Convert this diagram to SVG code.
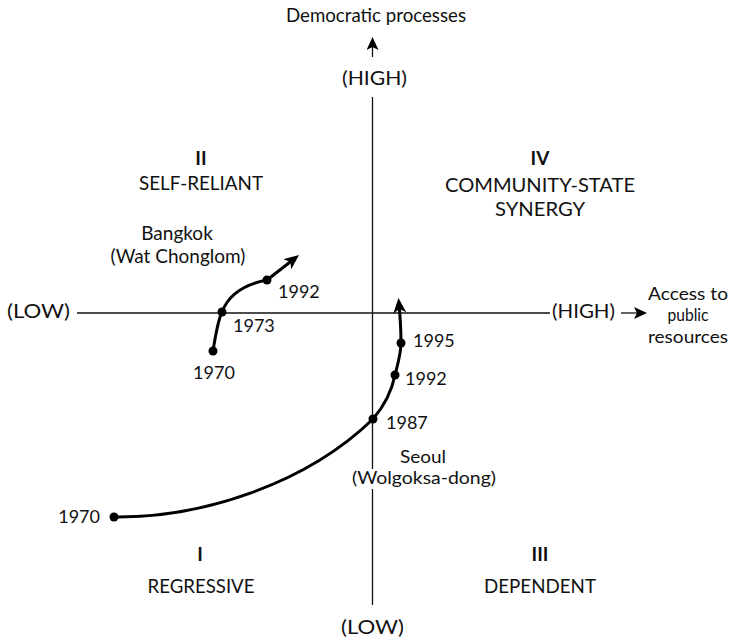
<svg xmlns="http://www.w3.org/2000/svg" width="732" height="643" viewBox="0 0 732 643">
<style>
text{font-family:Lato,"Liberation Sans",sans-serif;font-size:19px;fill:#111}
.c{text-anchor:middle}
.b{font-weight:bold}
.n{font-size:18px}
.s{font-size:17px}
.axis{stroke:#111;stroke-width:1.3;fill:none}
.curve{stroke:#000;stroke-width:3;fill:none}
.dot{fill:#000}
</style>
<defs>
<marker id="ah" markerWidth="14" markerHeight="14" refX="7" refY="6" orient="auto" markerUnits="userSpaceOnUse">
<path d="M0,0 L13,6 L0,12 L3,6 Z" fill="#000"/>
</marker>
<marker id="ahc" markerWidth="16" markerHeight="16" refX="9" refY="6.5" orient="auto" markerUnits="userSpaceOnUse">
<path d="M0,0 L15,6.5 L0,13 L4,6.5 Z" fill="#000"/>
</marker>
</defs>
<g id="axes">
<line class="axis" x1="372.5" y1="97" x2="372.5" y2="605"/>
<line class="axis" x1="77" y1="313" x2="550" y2="313"/>
<line class="axis" x1="372.5" y1="57" x2="372.5" y2="43" marker-end="url(#ah)" stroke-width="1.5"/>
<line class="axis" x1="621" y1="313" x2="641" y2="313" marker-end="url(#ah)" stroke-width="1.5"/>
</g>
<g id="axis-labels">
<text class="c" x="376" y="22" textLength="180" lengthAdjust="spacingAndGlyphs">Democratic processes</text>
<text class="c" x="374.5" y="85" textLength="65" lengthAdjust="spacingAndGlyphs">(HIGH)</text>
<text class="c" x="372.5" y="634" textLength="63" lengthAdjust="spacingAndGlyphs">(LOW)</text>
<text x="7" y="318" textLength="63" lengthAdjust="spacingAndGlyphs">(LOW)</text>
<text x="552" y="318" textLength="63" lengthAdjust="spacingAndGlyphs">(HIGH)</text>
<text class="c s" x="688" y="300" textLength="80" lengthAdjust="spacingAndGlyphs">Access to</text>
<text class="c s" x="688" y="321" textLength="41" lengthAdjust="spacingAndGlyphs">public</text>
<text class="c s" x="688" y="343" textLength="80" lengthAdjust="spacingAndGlyphs">resources</text>
</g>
<g id="quadrant-II">
<text class="c b" x="201" y="165">II</text>
<text class="c" x="201" y="190" textLength="124" lengthAdjust="spacingAndGlyphs">SELF-RELIANT</text>
</g>
<g id="quadrant-IV">
<text class="c b" x="540" y="165">IV</text>
<text class="c" x="540" y="192" textLength="190" lengthAdjust="spacingAndGlyphs">COMMUNITY-STATE</text>
<text class="c" x="540" y="216" textLength="90" lengthAdjust="spacingAndGlyphs">SYNERGY</text>
</g>
<g id="quadrant-I">
<text class="c b" x="200" y="561">I</text>
<text class="c" x="201" y="593" textLength="107" lengthAdjust="spacingAndGlyphs">REGRESSIVE</text>
</g>
<g id="quadrant-III">
<text class="c b" x="540" y="561">III</text>
<text class="c" x="540" y="593" textLength="112" lengthAdjust="spacingAndGlyphs">DEPENDENT</text>
</g>
<g id="connectors">
<path class="curve" d="M213,351 C216,332 218,320 222,312 C228,296 241,285 267,280 L294.3,258.7" marker-end="url(#ahc)"/>
<path class="curve" d="M114,517 C200,518 305,485 373,419 C385,405 392,390 395,375 C399,360 401,352 401,343 C401,328 400,315 399,304" marker-end="url(#ahc)"/>
</g>
<g id="bangkok">
<circle class="dot" cx="213" cy="351" r="4.5"/>
<circle class="dot" cx="222" cy="312" r="4.5"/>
<circle class="dot" cx="267" cy="280" r="4.5"/>
<text class="c" x="177" y="240">Bangkok</text>
<text class="c" x="178" y="263">(Wat Chonglom)</text>
<text class="c n" x="214" y="379">1970</text>
<text class="n" x="233" y="332">1973</text>
<text class="n" x="278" y="298">1992</text>
</g>
<g id="seoul">
<circle class="dot" cx="114" cy="517" r="4.5"/>
<circle class="dot" cx="373" cy="419" r="4.5"/>
<circle class="dot" cx="395" cy="375" r="4.5"/>
<circle class="dot" cx="401" cy="343" r="4.5"/>
<text class="n" x="100" y="523" text-anchor="end">1970</text>
<text class="n" x="386" y="429">1987</text>
<text class="n" x="405" y="385">1992</text>
<text class="n" x="413" y="347">1995</text>
<text class="c s" x="423" y="463" textLength="46" lengthAdjust="spacingAndGlyphs">Seoul</text>
<rect x="352" y="469" width="144" height="20" fill="#fff"/>
<text class="c s" x="424" y="484" textLength="144" lengthAdjust="spacingAndGlyphs">(Wolgoksa-dong)</text>
</g>
</svg>
